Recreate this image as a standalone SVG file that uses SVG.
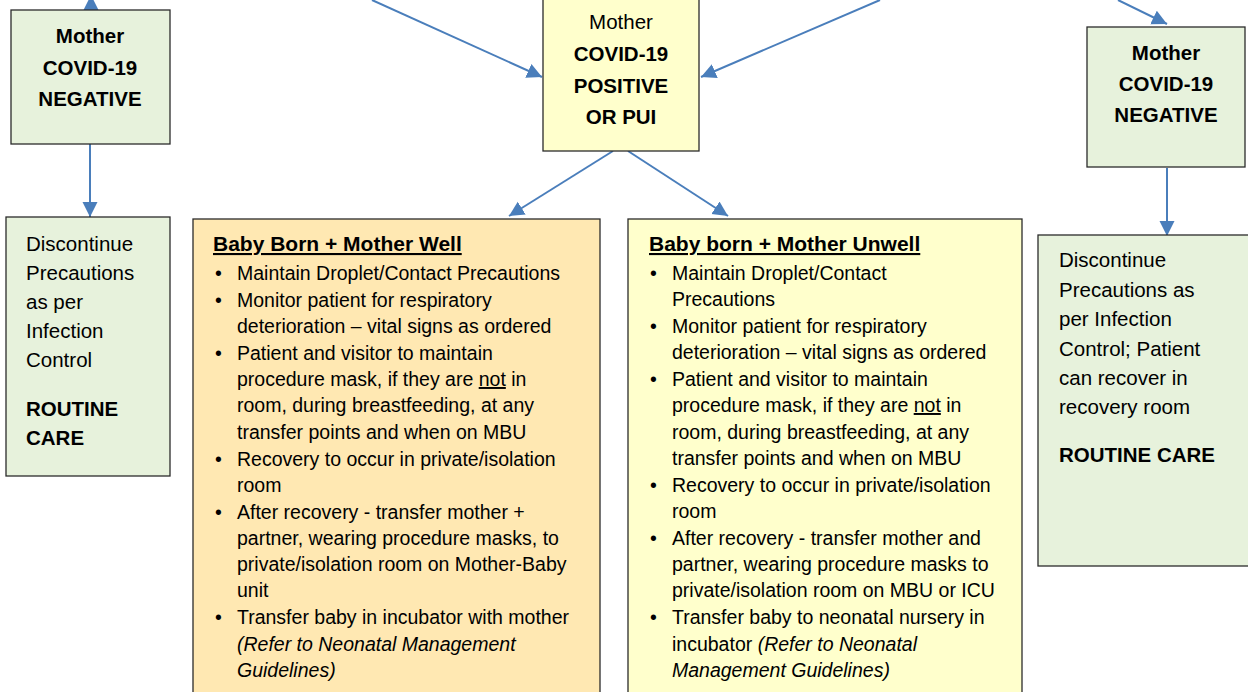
<svg xmlns="http://www.w3.org/2000/svg" width="1248" height="692" viewBox="0 0 1248 692">
<defs>
<marker id="ah" markerUnits="userSpaceOnUse" markerWidth="16" markerHeight="16" refX="15" refY="8" orient="auto">
<path d="M0,0.5 L15,8 L0,15.5 z" fill="#4A7EBB"/>
</marker>
<style>
.box{stroke:#2b2b2b;stroke-width:1.3}
.green{fill:#E7F2DC}
.yellow{fill:#FFFFCC}
.orange{fill:#FFE8B2}
.t{font-family:"Liberation Sans",Arial,sans-serif;font-size:19.5px;fill:#000}
.c{text-anchor:middle}
.bd{font-weight:bold}
.it{font-style:italic}
.big{font-size:20.5px}
.hd{font-size:21px;font-weight:bold}
.con{stroke:#4A7EBB;stroke-width:2;fill:none}
</style>
</defs>
<rect width="1248" height="692" fill="#fff"/>

<g id="connectors">
<line class="con" x1="91" y1="10" x2="91" y2="-5" marker-end="url(#ah)"/>
<line class="con" x1="90" y1="144" x2="90" y2="217" marker-end="url(#ah)"/>
<line class="con" x1="372" y1="0" x2="542" y2="77" marker-end="url(#ah)"/>
<line class="con" x1="880" y1="0" x2="701" y2="77" marker-end="url(#ah)"/>
<line class="con" x1="613" y1="151" x2="509" y2="216" marker-end="url(#ah)"/>
<line class="con" x1="628" y1="151" x2="728" y2="216" marker-end="url(#ah)"/>
<line class="con" x1="1118" y1="0" x2="1167" y2="24" marker-end="url(#ah)"/>
<line class="con" x1="1167" y1="168" x2="1167" y2="236" marker-end="url(#ah)"/>
</g>

<g id="neg-left">
<rect class="box green" x="11" y="10" width="159" height="134"/>
<text class="t bd c big" x="90" y="43">Mother</text>
<text class="t bd c big" x="90" y="75">COVID-19</text>
<text class="t bd c big" x="90" y="106">NEGATIVE</text>
</g>

<g id="routine-left">
<rect class="box green" x="6" y="217" width="164" height="259"/>
<text class="t big" x="26" y="251">Discontinue</text>
<text class="t big" x="26" y="280">Precautions</text>
<text class="t big" x="26" y="309">as per</text>
<text class="t big" x="26" y="338">Infection</text>
<text class="t big" x="26" y="367">Control</text>
<text class="t big bd" x="26" y="416">ROUTINE</text>
<text class="t big bd" x="26" y="445">CARE</text>
</g>

<g id="positive">
<rect class="box yellow" x="543" y="-2" width="156" height="153"/>
<text class="t c big" x="621" y="29">Mother</text>
<text class="t c big bd" x="621" y="61">COVID-19</text>
<text class="t c big bd" x="621" y="93">POSITIVE</text>
<text class="t c big bd" x="621" y="124">OR PUI</text>
</g>

<g id="neg-right">
<rect class="box green" x="1087" y="27" width="158" height="140"/>
<text class="t bd c big" x="1166" y="60">Mother</text>
<text class="t bd c big" x="1166" y="91">COVID-19</text>
<text class="t bd c big" x="1166" y="122">NEGATIVE</text>
</g>

<g id="routine-right">
<rect class="box green" x="1038" y="235" width="220" height="331"/>
<text class="t big" x="1059" y="267">Discontinue</text>
<text class="t big" x="1059" y="297">Precautions as</text>
<text class="t big" x="1059" y="326">per Infection</text>
<text class="t big" x="1059" y="356">Control; Patient</text>
<text class="t big" x="1059" y="385">can recover in</text>
<text class="t big" x="1059" y="414">recovery room</text>
<text class="t big bd" x="1059" y="462">ROUTINE CARE</text>
</g>

<g id="mother-well">
<rect class="box orange" x="193" y="219" width="407" height="480"/>
<text class="t hd" x="213" y="251" text-decoration="underline">Baby Born + Mother Well</text>
<text class="t" x="215" y="280">•</text><text class="t" x="237" y="280">Maintain Droplet/Contact Precautions</text>
<text class="t" x="215" y="307">•</text><text class="t" x="237" y="307">Monitor patient for respiratory</text>
<text class="t" x="237" y="333">deterioration – vital signs as ordered</text>
<text class="t" x="215" y="360">•</text><text class="t" x="237" y="360">Patient and visitor to maintain</text>
<text class="t" x="237" y="386">procedure mask, if they are <tspan text-decoration="underline">not</tspan> in</text>
<text class="t" x="237" y="412">room, during breastfeeding, at any</text>
<text class="t" x="237" y="439">transfer points and when on MBU</text>
<text class="t" x="215" y="466">•</text><text class="t" x="237" y="466">Recovery to occur in private/isolation</text>
<text class="t" x="237" y="492">room</text>
<text class="t" x="215" y="519">•</text><text class="t" x="237" y="519">After recovery - transfer mother +</text>
<text class="t" x="237" y="545">partner, wearing procedure masks, to</text>
<text class="t" x="237" y="571">private/isolation room on Mother-Baby</text>
<text class="t" x="237" y="597">unit</text>
<text class="t" x="215" y="624">•</text><text class="t" x="237" y="624">Transfer baby in incubator with mother</text>
<text class="t it" x="237" y="651">(Refer to Neonatal Management</text>
<text class="t it" x="237" y="677">Guidelines)</text>
</g>

<g id="mother-unwell">
<rect class="box yellow" x="628" y="219" width="394" height="480"/>
<text class="t hd" x="649" y="251" text-decoration="underline">Baby born + Mother Unwell</text>
<text class="t" x="650" y="280">•</text><text class="t" x="672" y="280">Maintain Droplet/Contact</text>
<text class="t" x="672" y="306">Precautions</text>
<text class="t" x="650" y="333">•</text><text class="t" x="672" y="333">Monitor patient for respiratory</text>
<text class="t" x="672" y="359">deterioration – vital signs as ordered</text>
<text class="t" x="650" y="386">•</text><text class="t" x="672" y="386">Patient and visitor to maintain</text>
<text class="t" x="672" y="412">procedure mask, if they are <tspan text-decoration="underline">not</tspan> in</text>
<text class="t" x="672" y="439">room, during breastfeeding, at any</text>
<text class="t" x="672" y="465">transfer points and when on MBU</text>
<text class="t" x="650" y="492">•</text><text class="t" x="672" y="492">Recovery to occur in private/isolation</text>
<text class="t" x="672" y="518">room</text>
<text class="t" x="650" y="545">•</text><text class="t" x="672" y="545">After recovery - transfer mother and</text>
<text class="t" x="672" y="571">partner, wearing procedure masks to</text>
<text class="t" x="672" y="597">private/isolation room on MBU or ICU</text>
<text class="t" x="650" y="624">•</text><text class="t" x="672" y="624">Transfer baby to neonatal nursery in</text>
<text class="t" x="672" y="651">incubator <tspan class="it">(Refer to Neonatal</tspan></text>
<text class="t it" x="672" y="677">Management Guidelines)</text>
</g>
</svg>
